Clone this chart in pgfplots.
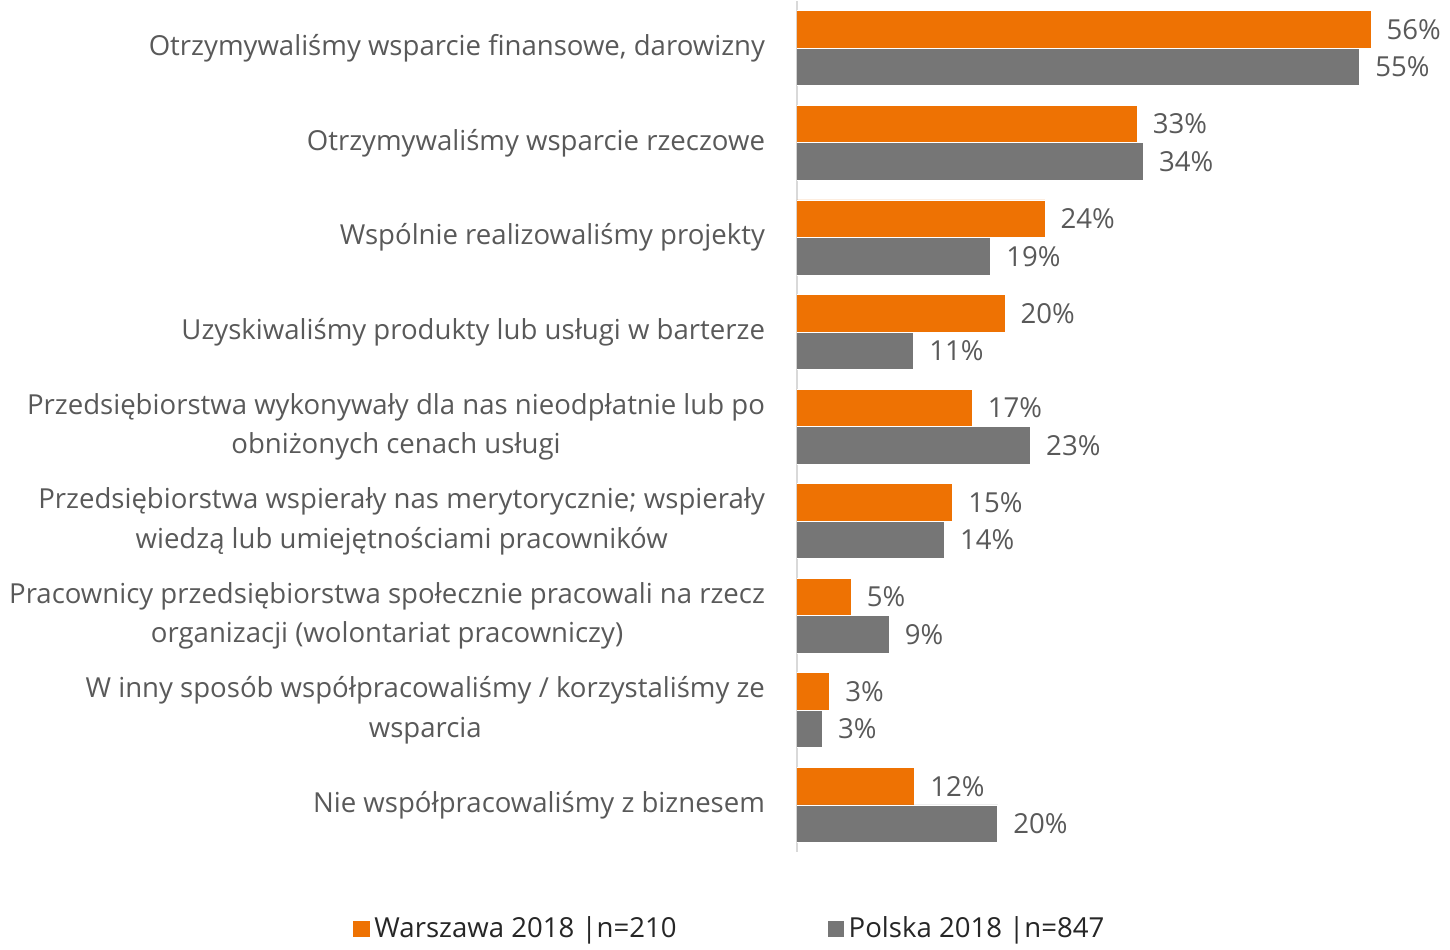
\documentclass[border=0pt]{standalone}
\usepackage{pgfplots}
\pgfplotsset{compat=1.18}
\usepackage{pgfplotstable}
\usepackage{fontspec}
\setmainfont{Open Sans}
\definecolor{cOrange}{HTML}{EE7203}
\definecolor{cGray}{HTML}{767676}
\definecolor{cText}{HTML}{595959}
\definecolor{cAxis}{HTML}{D9D9D9}
\pgfplotstableread{
y x lab
0 56.0 56\%
1 33.2 33\%
2 24.2 24\%
3 20.3 20\%
4 17.1 17\%
5 15.2 15\%
6 5.3 5\%
7 3.2 3\%
8 11.5 12\%
}\warsaw
\pgfplotstableread{
y x lab
0 54.9 55\%
1 33.8 34\%
2 18.9 19\%
3 11.4 11\%
4 22.8 23\%
5 14.4 14\%
6 9.0 9\%
7 2.5 3\%
8 19.6 20\%
}\poland
\begin{document}
\fontsize{13.6pt}{19.5pt}\selectfont
\begin{tikzpicture}
\begin{axis}[
  scale only axis,
  width=303.5pt, height=420pt,
  xmin=0, xmax=60,
  ymin=-0.5, ymax=8.5,
  y dir=reverse,
  xbar,
  bar width=18.5pt,
  axis y line=left,
  axis x line=none,
  axis line style={-, draw=cAxis, line width=1pt},
  ytick={0,...,8},
  major tick length=0pt,
  yticklabels={
    {Otrzymywaliśmy wsparcie finansowe, darowizny},
    {Otrzymywaliśmy wsparcie rzeczowe},
    {Wspólnie realizowaliśmy projekty},
    {Uzyskiwaliśmy produkty lub usługi w barterze},
    {Przedsiębiorstwa wykonywały dla nas nieodpłatnie lub po\\obniżonych cenach usługi},
    {Przedsiębiorstwa wspierały nas merytorycznie; wspierały\\wiedzą lub umiejętnościami pracowników},
    {Pracownicy przedsiębiorstwa społecznie pracowali na rzecz\\organizacji (wolontariat pracowniczy)},
    {W inny sposób współpracowaliśmy / korzystaliśmy ze\\wsparcia},
    {Nie współpracowaliśmy z biznesem}},
  yticklabel style={align=center, text=cText, font=\fontsize{13.6pt}{19.5pt}\selectfont, xshift=-11pt},
  nodes near coords,
  point meta=explicit symbolic,
  every node near coord/.append style={text=cText, font=\fontsize{13.6pt}{19.5pt}\selectfont, anchor=west, xshift=3pt},
  legend columns=2,
  legend style={at={(axis description cs:-0.108,-0.0905)}, anchor=center, draw=none,
    font=\fontsize{13.6pt}{19.5pt}\selectfont, text=black!85,
    /tikz/every even column/.append style={column sep=72pt}},
  legend image code/.code={\fill[#1] (0pt,-4.25pt) rectangle (8.5pt,4.25pt);},
]
\addplot[fill=cOrange, draw=white, line width=0.4pt, bar shift=9.25pt] table[x=x, y=y, meta=lab] {\warsaw};
\addplot[fill=cGray, draw=white, line width=0.4pt, bar shift=-9.25pt] table[x=x, y=y, meta=lab] {\poland};
\legend{Warszawa 2018 |n=210, Polska 2018 |n=847}
\end{axis}
\end{tikzpicture}
\end{document}
